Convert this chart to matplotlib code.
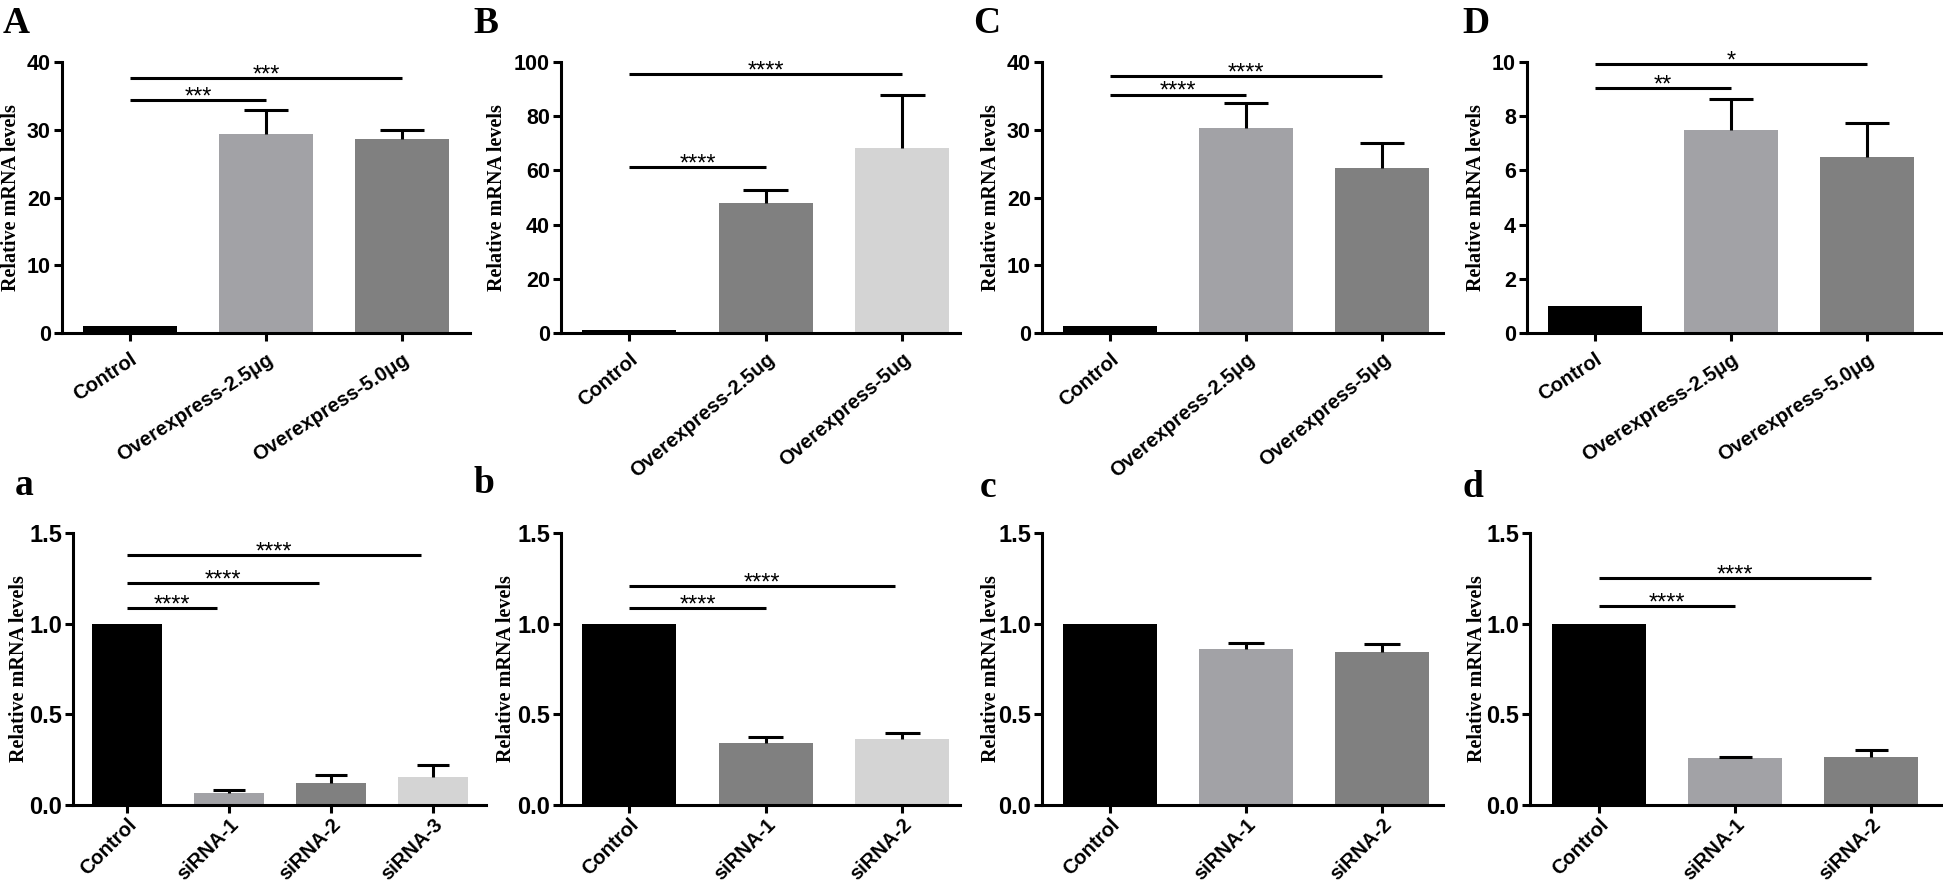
import numpy as np
import matplotlib
matplotlib.use('Agg')
import matplotlib.pyplot as plt

# ---- data ----
# A
A_groups = ['Control', 'Overexpress-2.5μg', 'Overexpress-5.0μg']
A_means = [1.0, 29.4, 28.7]
A_err = [0.0, 3.5, 1.2]
A_sig = [(0, 1, 34.4, '***'), (0, 2, 37.6, '***')]
# B
B_groups = ['Control', 'Overexpress-2.5ug', 'Overexpress-5ug']
B_means = [1.0, 47.9, 68.3]
B_err = [0.0, 4.9, 19.5]
B_sig = [(0, 1, 61.2, '****'), (0, 2, 95.5, '****')]
# C
C_groups = ['Control', 'Overexpress-2.5μg', 'Overexpress-5μg']
C_means = [1.0, 30.2, 24.3]
C_err = [0.0, 3.7, 3.8]
C_sig = [(0, 1, 35.2, '****'), (0, 2, 37.9, '****')]
# D
D_groups = ['Control', 'Overexpress-2.5μg', 'Overexpress-5.0μg']
D_means = [1.0, 7.5, 6.5]
D_err = [0.0, 1.13, 1.25]
D_sig = [(0, 1, 9.04, '**'), (0, 2, 9.92, '*')]
# a
a_groups = ['Control', 'siRNA-1', 'siRNA-2', 'siRNA-3']
a_means = [1.0, 0.068, 0.123, 0.157]
a_err = [0.0, 0.012, 0.042, 0.065]
a_sig = [(0, 0.88, 1.087, '****'), (0, 1.88, 1.226, '****'), (0, 2.88, 1.377, '****')]
# b
b_groups = ['Control', 'siRNA-1', 'siRNA-2']
b_means = [1.0, 0.343, 0.362]
b_err = [0.0, 0.030, 0.036]
b_sig = [(0, 1, 1.087, '****'), (0, 1.95, 1.206, '****')]
# c
c_groups = ['Control', 'siRNA-1', 'siRNA-2']
c_means = [1.0, 0.862, 0.844]
c_err = [0.0, 0.029, 0.045]
c_sig = []
# d
d_groups = ['Control', 'siRNA-1', 'siRNA-2']
d_means = [1.0, 0.258, 0.267]
d_err = [0.0, 0.004, 0.037]
d_sig = [(0, 1, 1.095, '****'), (0, 2, 1.252, '****')]

# ---- styling / layout ----
W, H = 1943, 886
BLACK, MID, DARK, LIGHT = '#000000', '#a2a2a6', '#808080', '#d4d4d4'
LW = 2.2
sans = 'Liberation Sans'
serif = 'Liberation Serif'

# letter, groups, means, err, sig, colors, ymax, ystep, left_px, spacing_px, xlim, rot, letter pos, ylabel x px, cap half width
panels = [
    ('A', A_groups, A_means, A_err, A_sig, [BLACK, MID, DARK], 40, 10, 62, 136, (-0.5, 2.5), 33, (3, 33), 21, 0.165),
    ('B', B_groups, B_means, B_err, B_sig, [BLACK, DARK, LIGHT], 100, 20, 561, 136.5, (-0.5, 2.42), 40, (473, 33), 507, 0.165),
    ('C', C_groups, C_means, C_err, C_sig, [BLACK, MID, DARK], 40, 10, 1042, 136, (-0.5, 2.45), 40, (973, 33), 1001, 0.165),
    ('D', D_groups, D_means, D_err, D_sig, [BLACK, MID, DARK], 10, 2, 1527, 136, (-0.5, 2.55), 33, (1462, 33), 1486, 0.165),
    ('a', a_groups, a_means, a_err, a_sig, [BLACK, MID, DARK, LIGHT], 1.5, 0.5, 73, 102, (-0.53, 3.52), 45, (15, 495), 29, 0.16),
    ('b', b_groups, b_means, b_err, b_sig, [BLACK, DARK, LIGHT], 1.5, 0.5, 561, 136.5, (-0.5, 2.42), 45, (473, 493), 516, 0.13),
    ('c', c_groups, c_means, c_err, c_sig, [BLACK, MID, DARK], 1.5, 0.5, 1042, 136, (-0.5, 2.45), 45, (980, 497), 1001, 0.13),
    ('d', d_groups, d_means, d_err, d_sig, [BLACK, MID, DARK], 1.5, 0.5, 1530, 136, (-0.51, 2.52), 45, (1462, 497), 1487, 0.12),
]
rows = {True: (62, 333), False: (533, 805)}  # top / baseline pixel rows

fig = plt.figure(figsize=(W / 100, H / 100), dpi=100)

for (letter, groups, means, err, sig, colors, ymax, ystep, left_px, sp,
     xlim, rot, lpos, ylab_px, cap) in panels:
    top_row = letter.isupper()
    top_px, base_px = rows[top_row]
    width_px = (xlim[1] - xlim[0]) * sp
    ax = fig.add_axes([left_px / W, 1 - base_px / H, width_px / W, (base_px - top_px) / H])
    x = np.arange(len(groups))
    means = np.array(means)
    err = np.array(err)
    ax.bar(x, means, width=0.69, color=colors, zorder=2)
    # upper-only error bars with a cap
    has = err > 0
    ax.vlines(x[has], means[has], means[has] + err[has], color='black', lw=LW, zorder=3)
    ax.hlines(means[has] + err[has], x[has] - cap, x[has] + cap, color='black', lw=LW, zorder=3)
    for x0, x1, yv, txt in sig:
        ax.plot([x0, x1], [yv, yv], color='black', lw=LW, solid_capstyle='butt', clip_on=False)
        ax.annotate(txt, ((x0 + x1) / 2, yv), xytext=(0, -2.5), textcoords='offset points',
                    ha='center', va='baseline', fontsize=17, family=sans, annotation_clip=False)
    ax.set_xlim(*xlim)
    ax.set_ylim(0, ymax)
    ax.set_yticks(np.arange(0, ymax + ystep / 2, ystep))
    if ymax < 5:
        ax.set_yticklabels(['%.1f' % v for v in np.arange(0, ymax + ystep / 2, ystep)])
    ax.set_xticks(x)
    ax.set_xticklabels(groups, rotation=rot, ha='right', va='top', rotation_mode='anchor')
    for sp_name in ['top', 'right']:
        ax.spines[sp_name].set_visible(False)
    for sp_name in ['left', 'bottom']:
        ax.spines[sp_name].set_linewidth(LW)
    ax.tick_params(direction='out', length=5.5, width=LW, pad=2.5)
    if top_row:
        ax.tick_params(axis='y', labelsize=15.5)
        ax.tick_params(axis='x', labelsize=14.5, pad=6.5)
    else:
        ax.tick_params(axis='y', labelsize=17)
        ax.tick_params(axis='x', labelsize=14.5, pad=2)
    for lab in ax.get_xticklabels() + ax.get_yticklabels():
        lab.set_fontfamily(sans)
        lab.set_fontweight('bold')
    ax.set_ylabel('Relative mRNA levels', family=serif, fontweight='bold', fontsize=14.5)
    ax.yaxis.set_label_coords(ylab_px / W, 1 - (top_px + base_px) / 2 / H, transform=fig.transFigure)
    fig.text(lpos[0] / W, 1 - lpos[1] / H, letter, family=serif, fontweight='bold',
             fontsize=27, ha='left', va='baseline')

fig.savefig('out.png', dpi=100)
